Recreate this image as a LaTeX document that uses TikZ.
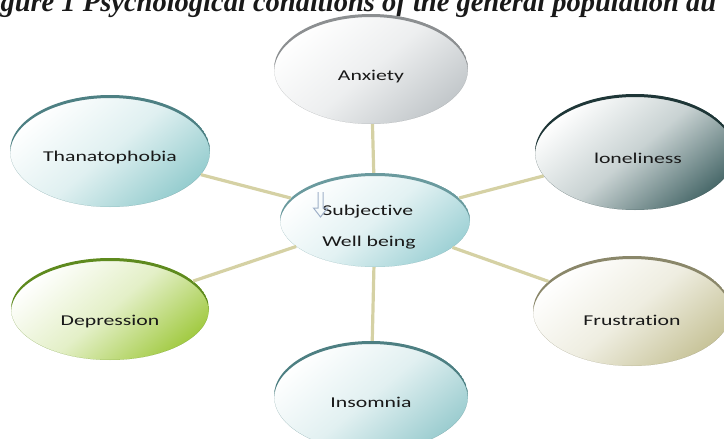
\documentclass[tikz,border=0pt]{standalone}
\usepackage{fontspec}
\newfontfamily\bubblefont[FakeStretch=1.45, Ligatures=NoCommon]{Carlito}
\newfontfamily\titlefont{Liberation Serif}
\usetikzlibrary{shapes.geometric,calc}

\definecolor{anxietycol}{HTML}{C3C8CB}
\definecolor{anxietyedge}{HTML}{8C8F91}
\definecolor{thanatocol}{HTML}{96CDCF}
\definecolor{thanatoedge}{HTML}{4D8083}
\definecolor{lonelycol}{HTML}{4A6A6B}
\definecolor{lonelyedge}{HTML}{1E3637}
\definecolor{centrecol}{HTML}{A0D2D6}
\definecolor{centreedge}{HTML}{6A9A9E}
\definecolor{depressioncol}{HTML}{A3CB45}
\definecolor{depressionedge}{HTML}{5E8A1E}
\definecolor{frustrationcol}{HTML}{C8C49A}
\definecolor{frustrationedge}{HTML}{8A876A}
\definecolor{insomniacol}{HTML}{9CCDD0}
\definecolor{insomniaedge}{HTML}{4D7F82}
\definecolor{linkcol}{HTML}{D5D1A4}
\definecolor{arrowcol}{HTML}{9FB0C8}

\tikzset{
  bubble/.style 2 args={ellipse, minimum width=198pt, minimum height=110pt, inner sep=0pt,
    top color=white, bottom color=#1, middle color=#1!30, shading angle=40,
    path picture={
      \fill[#2, even odd rule] let \p1=($(path picture bounding box.north east)-(path picture bounding box.center)$) in
        (path picture bounding box.center) ellipse [x radius=\x1, y radius=\y1]
        ([yshift=-3pt]path picture bounding box.center) ellipse [x radius=\x1, y radius=\y1];
    }},
  word/.style={font=\bubblefont\fontsize{15}{31}\selectfont, text=black!90},
  link/.style={draw=linkcol, line width=3.2pt},
}

\begin{document}
\begin{tikzpicture}[x=1pt,y=1pt]
  \useasboundingbox (0,0) rectangle (724,-439);

  \node[anchor=base west, text=black!90,
        font=\titlefont\bfseries\itshape\fontsize{28.5}{32}\selectfont] (title) at (-3,-11)
        {gure 1 Psychological conditions of the general population du};

  % centre of the map
  \node[bubble={centrecol}{centreedge}, minimum width=190pt, minimum height=94pt,
        label={[word, align=left, xshift=-6pt, yshift=-7pt]center:Subjective\\Well being}] (centre) at (375,-220) {};
  \draw[arrowcol, line width=1pt] (318,-192) -- (318,-208) -- (313.5,-208) -- (320.5,-217)
        -- (327.5,-208) -- (323,-208) -- (323,-192);

  % conditions round it
  \node[bubble={anxietycol}{anxietyedge}, minimum width=194pt,
        label={[word, yshift=-8pt]center:Anxiety}] (anxiety) at (371,-69) {};
  \node[bubble={thanatocol}{thanatoedge}, minimum width=200pt, minimum height=112pt,
        label={[word, yshift=-6pt]center:Thanatophobia}] (thanato) at (110,-151) {};
  \node[bubble={lonelycol}{lonelyedge}, minimum width=200pt, minimum height=116pt,
        label={[word, xshift=3pt, yshift=-6pt]center:loneliness}] (lonely) at (635,-152) {};
  \node[bubble={depressioncol}{depressionedge}, minimum height=102pt,
        label={[word, yshift=-13pt]center:Depression}] (depression) at (110,-309) {};
  \node[bubble={frustrationcol}{frustrationedge},
        label={[word, yshift=-9pt]center:Frustration}] (frustration) at (632,-311) {};
  \node[bubble={insomniacol}{insomniaedge}, minimum width=194pt,
        label={[word, yshift=-6pt]center:Insomnia}] (insomnia) at (371,-396) {};

  \draw[link] (centre) -- (anxiety);
  \draw[link] (centre) -- (thanato);
  \draw[link] (centre) -- (lonely);
  \draw[link] (centre) -- (depression);
  \draw[link] (centre) -- (frustration);
  \draw[link] (centre) -- (insomnia);

\end{tikzpicture}
\end{document}
